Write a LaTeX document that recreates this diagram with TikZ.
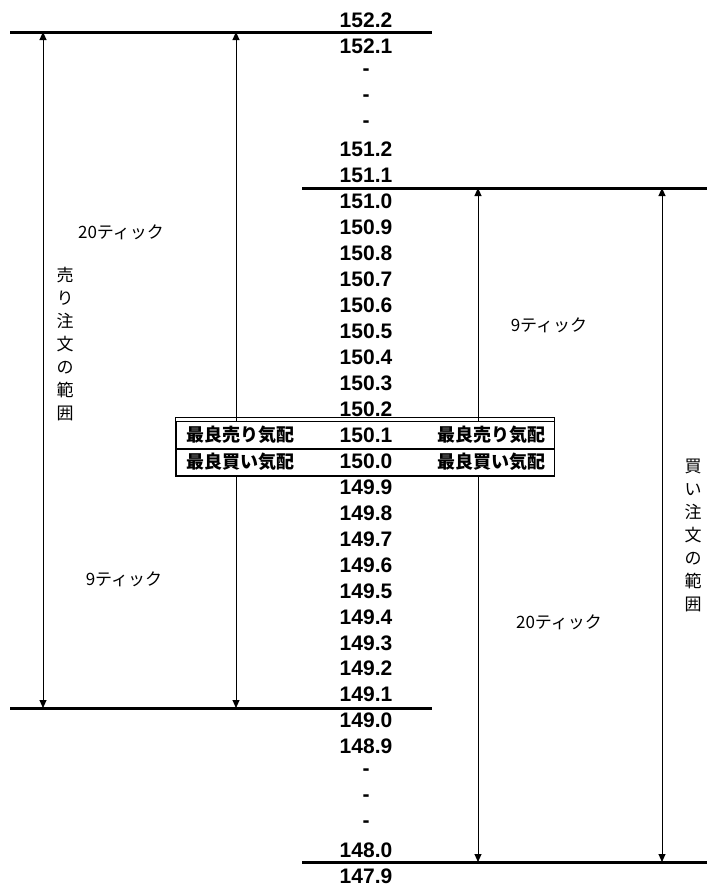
\documentclass[tikz,border=0pt]{standalone}
\usepackage{fontspec}
\setmainfont{Liberation Sans}
\newfontfamily\jpfont{Noto Sans CJK JP}
\usetikzlibrary{arrows.meta}
\usetikzlibrary{positioning}
\newcommand{\rowpitch}{25.95}
\newcommand{\boxwidth}{378pt}
\tikzset{
    price/.style={font={\fontsize{21}{21}\selectfont\bfseries}, inner sep=0pt},
    ticklabel/.style={font={\jpfont\fontsize{17}{17}\selectfont}, inner sep=0pt},
    vlabel/.style={font={\jpfont\fontsize{17}{23}\selectfont}, align=center, inner sep=0pt},
    boxlabel/.style={font={\jpfont\bfseries\fontsize{18}{18}\selectfont}, inner sep=0pt},
    level/.style={line width=3pt},
    spanarrow/.style={{Triangle[length=8pt,width=7pt]}-{Triangle[length=8pt,width=7pt]}, line width=0.9pt},
    bestrow/.style={draw, line width=1pt, fill=white, minimum width=\boxwidth, minimum height=26.5pt, inner sep=0pt}
}
\begin{document}
\begin{tikzpicture}[x=1pt, y=-1pt]
                \useasboundingbox (0,0) rectangle (707,887);

                \path
                    (10,32) coordinate (sellTop-left)
                    (432,32) coordinate (sellTop-right)
                    (10,708) coordinate (sellBot-left)
                    (432,708) coordinate (sellBot-right)
                    (302,188) coordinate (buyTop-left)
                    (707,188) coordinate (buyTop-right)
                    (302,862) coordinate (buyBot-left)
                    (707,862) coordinate (buyBot-right);

                \path
                    (43,32) coordinate (S20-top)   (43,708) coordinate (S20-bot)
                    (236,32) coordinate (S9-top)   (236,708) coordinate (S9-bot)
                    (478,188) coordinate (B9-top)  (478,862) coordinate (B9-bot)
                    (662,188) coordinate (B20-top) (662,862) coordinate (B20-bot);

                \draw[level]
                  (sellTop-left) -- (sellTop-right)
                  (sellBot-left) -- (sellBot-right)
                  (buyTop-left) -- (buyTop-right)
                  (buyBot-left) -- (buyBot-right);

                \draw[spanarrow] (S20-top) -- (S20-bot);
                \draw[spanarrow] (S9-top) -- (S9-bot);
                \draw[spanarrow] (B9-top) -- (B9-bot);
                \draw[spanarrow] (B20-top) -- (B20-bot);

                \node[ticklabel] (S20-lbl) at (121,232) {20ティック};
                \node[ticklabel] (S9-lbl) at (124,579) {9ティック};
                \node[ticklabel] (B9-lbl) at (549,325) {9ティック};
                \node[ticklabel] (B20-lbl) at (559,622) {20ティック};
                \node[vlabel] (sellRange) at (65,344) {売\\り\\注\\文\\の\\範\\囲};
                \node[vlabel] (buyRange) at (693,535) {買\\い\\注\\文\\の\\範\\囲};

                % best quotes
                \node[bestrow] (bestAsk) at (365,435) {};
                \node[bestrow, below=0pt of bestAsk] (bestBid) {};
                \draw[line width=1pt] ([yshift=4pt]bestAsk.north west) rectangle (bestBid.south east);
                \node[boxlabel] (askL) at (240,435) {最良売り気配};
                \node[boxlabel] (askR) at (491,435) {最良売り気配};
                \node[boxlabel] (bidL) at (240,462) {最良買い気配};
                \node[boxlabel] (bidR) at (491,462) {最良買い気配};

                \path
                    (366,20) node[price] (R0) {152.2}
                    ++(0,\rowpitch) node[price] (R1) {152.1}
                    ++(0,\rowpitch) node[price] (R2) {-}
                    ++(0,\rowpitch) node[price] (R3) {-}
                    ++(0,\rowpitch) node[price] (R4) {-}
                    ++(0,\rowpitch) node[price] (R5) {151.2}
                    ++(0,\rowpitch) node[price] (R6) {151.1}
                    ++(0,\rowpitch) node[price] (R7) {151.0}
                    ++(0,\rowpitch) node[price] (R8) {150.9}
                    ++(0,\rowpitch) node[price] (R9) {150.8}
                    ++(0,\rowpitch) node[price] (R10) {150.7}
                    ++(0,\rowpitch) node[price] (R11) {150.6}
                    ++(0,\rowpitch) node[price] (R12) {150.5}
                    ++(0,\rowpitch) node[price] (R13) {150.4}
                    ++(0,\rowpitch) node[price] (R14) {150.3}
                    ++(0,\rowpitch) node[price] (R15) {150.2}
                    ++(0,\rowpitch) node[price] (R16) {150.1}
                    ++(0,\rowpitch) node[price] (R17) {150.0}
                    ++(0,\rowpitch) node[price] (R18) {149.9}
                    ++(0,\rowpitch) node[price] (R19) {149.8}
                    ++(0,\rowpitch) node[price] (R20) {149.7}
                    ++(0,\rowpitch) node[price] (R21) {149.6}
                    ++(0,\rowpitch) node[price] (R22) {149.5}
                    ++(0,\rowpitch) node[price] (R23) {149.4}
                    ++(0,\rowpitch) node[price] (R24) {149.3}
                    ++(0,\rowpitch) node[price] (R25) {149.2}
                    ++(0,\rowpitch) node[price] (R26) {149.1}
                    ++(0,\rowpitch) node[price] (R27) {149.0}
                    ++(0,\rowpitch) node[price] (R28) {148.9}
                    ++(0,\rowpitch) node[price] (R29) {-}
                    ++(0,\rowpitch) node[price] (R30) {-}
                    ++(0,\rowpitch) node[price] (R31) {-}
                    ++(0,\rowpitch) node[price] (R32) {148.0}
                    ++(0,\rowpitch) node[price] (R33) {147.9};
            \end{tikzpicture}
\end{document}
